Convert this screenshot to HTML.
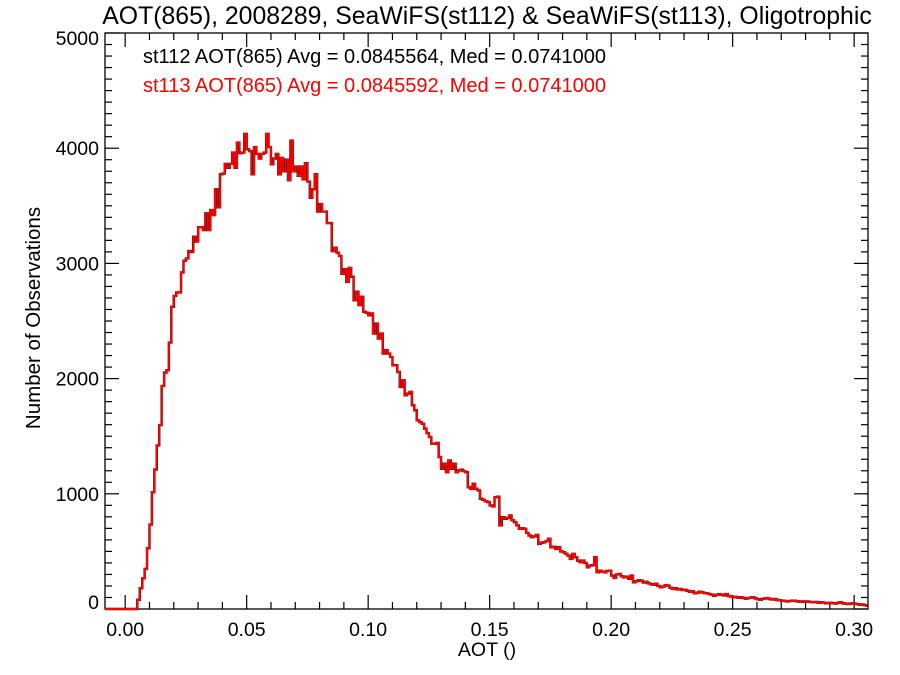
<!DOCTYPE html>
<html><head><meta charset="utf-8">
<style>
html,body{margin:0;padding:0;background:#fff;}
svg{display:block;font-family:"Liberation Sans",Arial,sans-serif;}
</style></head>
<body>
<svg id="chart" width="900" height="675" viewBox="0 0 900 675" xmlns="http://www.w3.org/2000/svg">
<rect x="0" y="0" width="900" height="675" fill="#fff"/>
<text x="487" y="24" font-size="24.8" text-anchor="middle" fill="#000">AOT(865), 2008289, SeaWiFS(st112) &amp; SeaWiFS(st113), Oligotrophic</text>
<text x="143" y="63" font-size="20" fill="#000">st112 AOT(865) Avg = 0.0845564, Med = 0.0741000</text>
<text x="143" y="92" font-size="20" fill="#ff0000">st113 AOT(865) Avg = 0.0845592, Med = 0.0741000</text>
<text x="487" y="656" font-size="19.5" text-anchor="middle">AOT ()</text>
<text x="0" y="0" font-size="20.5" text-anchor="middle" transform="translate(40,318) rotate(-90)">Number of Observations</text>
<g id="axes"></g>
<g id="series"></g>
</svg>
<script>
const xTicks = [0.00, 0.05, 0.10, 0.15, 0.20, 0.25, 0.30];
const xTickLabels = ["0.00","0.05","0.10","0.15","0.20","0.25","0.30"];
const yTicks = [0, 1000, 2000, 3000, 4000, 5000];
const yTickLabels = ["0","1000","2000","3000","4000","5000"];
const binWidth = 0.001;
const counts = [
0,0,0,0,0,80,180,266,348,527,733,1014,1211,1420,1597,1936,2052,2072,2313,2623,
2718,2748,2748,2922,3023,3043,3107,3100,3231,3190,3313,3313,3290,3435,3290,3463,3420,3643,3487,3774,
3780,3863,3830,3863,3962,3830,4049,3957,3962,4124,3990,3975,3774,4010,3950,3910,3950,3962,4124,4010,
3860,3910,3950,3774,3915,3800,3900,3722,4065,3800,3840,3760,3840,3730,3870,3710,3570,3643,3774,3450,
3515,3450,3450,3350,3350,3107,3135,3093,3065,2910,2950,2840,2960,2884,2681,2754,2638,2710,2580,2571,
2550,2565,2391,2478,2348,2391,2217,2246,2217,2188,2116,2116,2058,1928,1985,1855,1870,1884,1768,1725,
1638,1623,1609,1565,1527,1493,1435,1435,1441,1319,1217,1261,1188,1289,1217,1261,1188,1203,1209,1197,
1188,1058,1043,1087,1043,1029,957,948,936,928,899,890,971,975,725,797,783,790,812,770,
754,725,696,700,696,660,638,623,630,643,565,575,580,590,609,536,540,522,536,500,
493,480,464,435,478,450,420,406,420,400,362,377,380,449,319,333,325,319,330,333,
290,270,300,304,285,275,280,262,290,232,240,250,246,230,236,223,215,211,220,200,
188,195,205,203,185,174,180,170,174,165,168,159,150,155,136,142,150,145,138,136,
130,125,116,122,128,124,118,130,112,108,101,105,98,101,96,90,95,99,101,92,
85,81,88,92,95,86,82,87,78,75,72,70,66,69,72,72,68,64,66,62,
66,63,60,58,61,55,58,56,50,52,54,49,47,55,58,50,46,43,47,49,
45,42,37,39,33,29
];

const L=105, R=868, T=33, B=609;
const xMin=-0.0083, xMax=0.3057, yMin=0, yMax=5000;
const sx = v => L + (v - xMin) / (xMax - xMin) * (R - L);
const sy = v => B - (v - yMin) / (yMax - yMin) * (B - T);
const NS='http://www.w3.org/2000/svg';
const axes=document.getElementById('axes');
const series=document.getElementById('series');
function mk(tag, attrs, parent){const e=document.createElementNS(NS,tag);for(const k in attrs)e.setAttribute(k,attrs[k]);parent.appendChild(e);return e;}

const fr = mk('rect',{x:L,y:T,width:R-L,height:B-T,fill:'none',stroke:'#000','stroke-width':1.3},axes);



for(let i=0;i<=30;i++){
  const v=i*0.01; const x=sx(v); const major=(i%5===0); const len=major?14:7;
  const t1=mk('line',{x1:x,y1:B,x2:x,y2:B-len,stroke:'#000','stroke-width':1.2},axes);
  
  
  const t2=mk('line',{x1:x,y1:T,x2:x,y2:T+len,stroke:'#000','stroke-width':1.2},axes);
  
  
}
xTicks.forEach((v,i)=>{
  const t=mk('text',{x:sx(v),y:B+27,'font-size':19.5,'text-anchor':'middle'},axes);
  t.textContent=xTickLabels[i];
  
  
});
for(let i=0;i<=50;i++){
  const v=i*100; const y=sy(v); const major=(i%10===0); const len=major?14:7;
  const t1=mk('line',{x1:L,y1:y,x2:L+len,y2:y,stroke:'#000','stroke-width':1.2},axes);
  
  
  const t2=mk('line',{x1:R,y1:y,x2:R-len,y2:y,stroke:'#000','stroke-width':1.2},axes);
  
  
}
yTicks.forEach((v,i)=>{
  let off = 7;
  if (v === yMin) off = 0;
  if (v === yMax) off = 12;
  const t=mk('text',{x:L-6,y:sy(v)+off,'font-size':19.5,'text-anchor':'end'},axes);
  t.textContent=yTickLabels[i];
  
  
});

let d='M'+sx(xMin)+','+sy(0)+' L'+sx(0)+','+sy(0);
counts.forEach((c,i)=>{
  const x0=sx(i*binWidth), x1=sx(Math.min((i+1)*binWidth,xMax));
  d+=' L'+x0.toFixed(2)+','+sy(c).toFixed(2)+' L'+x1.toFixed(2)+','+sy(c).toFixed(2);
});
const pb=mk('path',{d:d,fill:'none',stroke:'#000','stroke-width':2.4,'stroke-linejoin':'miter'},series);


const pr=mk('path',{d:d,fill:'none',stroke:'#ff0000','stroke-width':2,'stroke-linejoin':'miter'},series);


</script>
</body></html>
